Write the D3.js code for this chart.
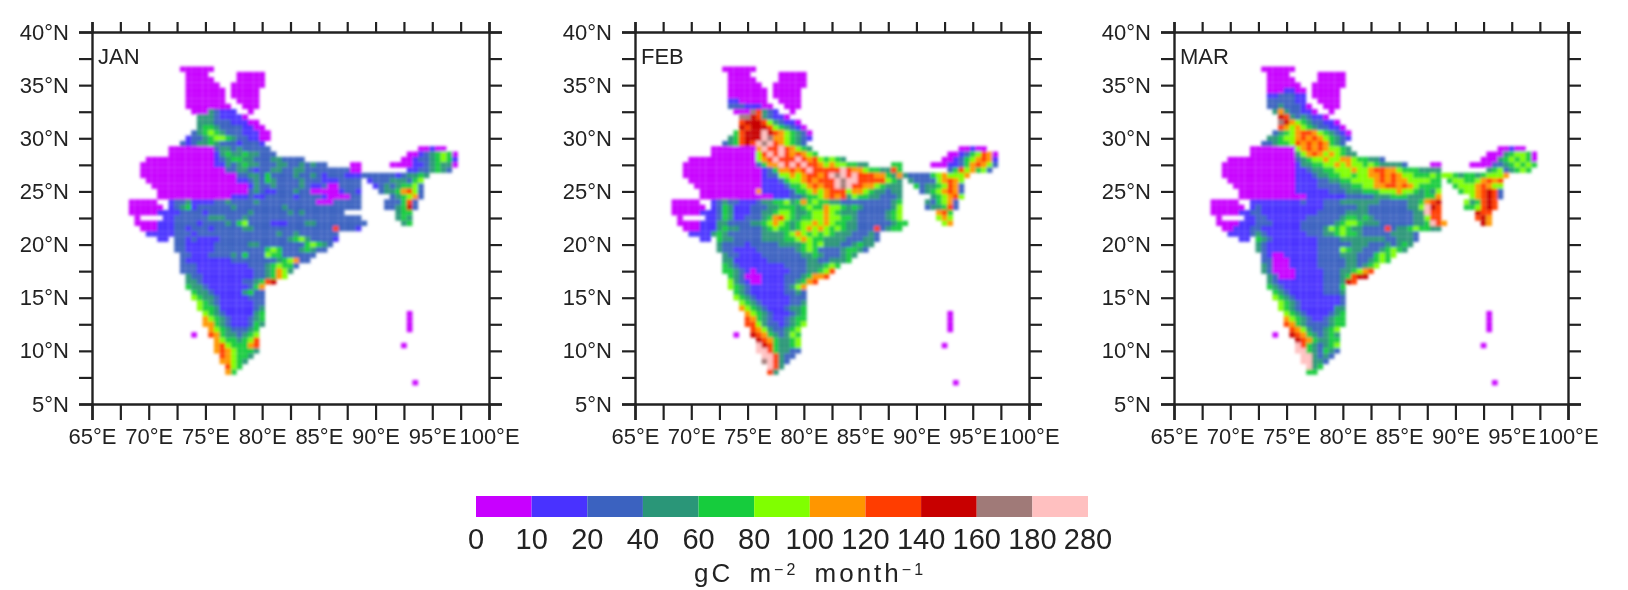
<!DOCTYPE html>
<html>
<head>
<meta charset="utf-8">
<script src="https://cdn.jsdelivr.net/npm/d3@7"></script>
<style>
  html, body { margin: 0; padding: 0; background: #fff; }
  text { font-family: "Liberation Sans", Arial, sans-serif; fill: #222; }
</style>
</head>
<body>
<div id="chart"></div>
<script>
// colour bar classes, gC m-2 month-1
var binLabels = ["0", "10", "20", "40", "60", "80", "100", "120", "140", "160", "180", "280"];
var binColors = ["#c800ff", "#4a30ff", "#3a62c0", "#2a9678", "#14cc3c", "#80ff00", "#ff9600", "#ff3c00", "#c80000", "#a07a78", "#ffc0c0"];
var binCodes = "0123456789a";

var months = ["JAN", "FEB", "MAR"];
var lonTicks = [65, 67.5, 70, 72.5, 75, 77.5, 80, 82.5, 85, 87.5, 90, 92.5, 95, 97.5, 100];
var latTicks = [5, 7.5, 10, 12.5, 15, 17.5, 20, 22.5, 25, 27.5, 30, 32.5, 35, 37.5, 40];

// grid: 0.5 deg cells, one row per latitude from 36.5N down to 7N.
// "col:codes" - col counts half degrees from 68E, each code is a colour bar class
var janRows = [
  "10:000000",
  "11:0000 20:00000",
  "11:00000 20:00000",
  "11:000000 19:000000",
  "11:0000000 19:00000",
  "11:0000000 19:00000",
  "11:0000000 20:0000",
  "11:00000000 21:000",
  "12:00032111 22:0",
  "13:333211110",
  "13:33322211100",
  "13:344322221100",
  "12:23454322211100",
  "11:122345543221100",
  "10:212334322212221",
  "8:000000002332322222 52:00100",
  "8:0000000013433433222 50:001234540",
  "4:0000000000001234433222332222 49:0012234541",
  "3:000000000000011323433222332232322 40:00 47:000011234330",
  "3:0000000000000002233212233223322222222 40:00 50:11223432",
  "3:00000000000000000223324222232232122211 41:1222222123343",
  "4:00000000000000001123243222232221112222 43:1222333245",
  "5:0000000000000000013223222232112002222 44:123234452",
  "6:000000000000000023211222322000001221 45:23346752",
  "6:000000000000011121122222122221000022 47:234562",
  "1:00000 8:1223111122322223222222222200022222 46:222472",
  "1:000000 8:1234122222232222222232222222222222 46:223482",
  "1:0000011 8:1122221222222232222223232222222 48:344",
  "2:0 7:11222222333222322222222222222222222 48:343",
  "2:00001112222122223245222211122233222222222 49:34",
  "3:000111221222122222332222222222222272221",
  "4:1111122212222222222222232232222222",
  "6:11 9:22121111222222222222345322221",
  "9:2211111222222332222222245432",
  "9:221111122222222245422234322",
  "10:221112222324222544222222",
  "10:21111111122222222345622",
  "10:222111111111222345442",
  "10:22211111111112234653",
  "11:322111111111223465",
  "11:3321111111223478",
  "11:43321111111246",
  "12:4332111113422",
  "12:5433211111222",
  "13:543211111122",
  "13:544311111123",
  "14:54321111134 50:0",
  "14:65432111234 50:0",
  "14:66432111243 50:0",
  "15:654322234 50:0",
  "12:0 15:764332345",
  "16:65443457",
  "16:67544467 49:0",
  "16:67654443",
  "17:765443",
  "17:66543",
  "18:754",
  "18:64",
  "",
  "51:0"
];

var febRows = [
  "10:000000",
  "11:0000 20:00000",
  "11:00000 20:00000",
  "11:000000 19:000000",
  "11:0000000 19:00000",
  "11:0000000 19:00000",
  "11:1100000 20:0000",
  "11:22211100 21:000",
  "12:00097321 22:0",
  "13:998732110",
  "13:78887532110",
  "13:878887543210",
  "12:47888a87654320",
  "11:347888a96654321",
  "10:234787a9a765432",
  "8:000000006a77a76543 52:00100",
  "8:0000000057a7a767654 50:001245760",
  "4:000000000000567a777a76754543 49:0012456761",
  "3:00000000000002466a7a7a77656554433 40:44 47:000112467652",
  "3:0000000000000012466767a77777a76654433 40:74 50:24756452",
  "3:00000000000000122556567767a9a7a7776643 41:6322224565556",
  "4:00000000000001112455676777a9aa77777543 43:3222256765",
  "5:0000000000001111244567677a9a776654333 44:423345762",
  "6:000000000061111124456567775665433233 45:23456762",
  "6:000000000000011122344567673544332223 47:345675",
  "1:00000 8:1232211123344534645443322222222234 46:324562",
  "1:000000 8:1243111222334443454465543432222235 46:233472",
  "1:0000011 8:1243111223345543345565433322222345 48:674",
  "2:0 7:11243112223467543445565544322222345 48:565",
  "2:00001113322223345654345565654433222222344 49:56",
  "3:000111343322223454434565654543322272344",
  "4:1111343222222333345654545433322232",
  "6:11 9:43322222333344565443333222332",
  "9:3222212222233334545333223433",
  "9:322111122222223454222234432",
  "10:322111122222223343222343",
  "10:33111111222222233223334",
  "10:432111111112222333454",
  "10:44321011111122233457",
  "11:432000111122234667",
  "11:5321001111223467",
  "11:54321111112356",
  "12:4321111112232",
  "12:5432111111222",
  "13:543211111223",
  "13:654321112334",
  "14:65432111234 50:0",
  "14:76432112344 50:0",
  "14:77532212345 50:0",
  "15:765322345 50:0",
  "12:0 15:876432354",
  "16:87643345",
  "16:a8743345 49:0",
  "16:aa743322",
  "17:aa7322",
  "17:9a732",
  "18:a73",
  "18:73",
  "",
  "51:0"
];

var marRows = [
  "10:000000",
  "11:0000 20:00000",
  "11:00000 20:00000",
  "11:000000 19:000000",
  "11:0001100 19:00000",
  "11:1122211 19:00000",
  "11:2222211 20:0000",
  "11:22322210 21:000",
  "12:36322110 22:0",
  "13:873232110",
  "13:98654322110",
  "13:765654322110",
  "12:23456776543210",
  "11:334556767654321",
  "10:223445767676432",
  "8:000000005676765543 52:00100",
  "8:0000000035676565433 50:000345540",
  "4:0000000000002345565566544332 49:0003454540",
  "3:000000000000013344556565545433332 40:00 47:000022345454",
  "3:0000000000000112334455565567766544433 40:33 50:34523454",
  "3:00000000000001112334455455667676554445 41:4554344345556",
  "4:00000000000011112233445555676766555544 43:4554456767",
  "5:0000000000011112222334455667767654444 44:455567655",
  "6:000000000011111122233344455565543435 45:45567872",
  "6:000000000000111111122222333444333446 47:567872",
  "1:00000 8:1111111112111222333333322222334678 46:534787",
  "1:000000 8:1211111111111222222332222222335a87 46:445787",
  "1:0000011 8:2211111111112222233332222222233a77 48:877",
  "2:0 7:11221111111222222344343222222233577 48:786",
  "2:00001112221111122222234554333222222334a76 49:86",
  "3:001112211111112222354543322227233454433",
  "4:1111232111111122233454432222233332",
  "6:11 9:43211111111222233333333223332",
  "9:3211111111122222233322232343",
  "9:321111111112222543322234543",
  "10:210011111122223332224545",
  "10:22000111112222233223454",
  "10:320001111122222332345",
  "10:32000011111222334567",
  "11:320001111122234788",
  "11:3211111111222387",
  "11:43211111112224",
  "12:4321111112223",
  "12:5432111111112",
  "13:543211111112",
  "13:543211111133",
  "14:54321111234 50:0",
  "14:65432112344 50:0",
  "14:76432222344 50:0",
  "15:765322345 50:0",
  "12:0 15:876432343",
  "16:87643344",
  "16:a7432345 49:0",
  "16:aa432432",
  "17:aa3232",
  "17:aa332",
  "18:a34",
  "18:44",
  "",
  "51:0"
];

var allRows = [janRows, febRows, marRows];

var width = 1628, height = 590;
var plotLefts = [92, 635, 1174];
var plotWidths = [397, 394, 394];
var plotTop = 32, plotHeight = 372;

var svg = d3.select("#chart").append("svg")
    .attr("width", width)
    .attr("height", height)
    .style("display", "block");

var defs = svg.append("defs");
defs.append("filter").attr("id", "soft").append("feGaussianBlur").attr("stdDeviation", 0.6);
defs.append("filter").attr("id", "softMap").append("feGaussianBlur").attr("stdDeviation", 1.4);

var color = d3.scaleOrdinal().domain(binCodes.split("")).range(binColors);

// turn the "col:codes" strings into cells
function parseRows(rows) {
    var cells = [];
    rows.forEach(function (row, r) {
        var lat = 36.5 - r * 0.5;
        row.split(" ").forEach(function (seg) {
            if (!seg) return;
            var parts = seg.split(":");
            var start = +parts[0];
            parts[1].split("").forEach(function (code, k) {
                cells.push({lon: 68 + (start + k) * 0.5, lat: lat, code: code});
            });
        });
    });
    return cells;
}

function drawPanel(i) {
    var plotWidth = plotWidths[i];
    var g = svg.append("g")
        .attr("transform", "translate(" + plotLefts[i] + "," + plotTop + ")");

    var x = d3.scaleLinear().domain([65, 100]).range([0, plotWidth]);
    var y = d3.scaleLinear().domain([5, 40]).range([plotHeight, 0]);

    g.append("g").attr("filter", "url(#softMap)")
        .selectAll("rect")
        .data(parseRows(allRows[i]))
        .enter().append("rect")
        .attr("x", function (d) { return x(d.lon - 0.25); })
        .attr("y", function (d) { return y(d.lat + 0.25); })
        .attr("width", x(0.5) - x(0))
        .attr("height", y(0) - y(0.5))
        .attr("fill", function (d) { return color(d.code); });

    var frame = g.append("g").attr("filter", "url(#soft)");

    frame.append("g")
        .attr("transform", "translate(0," + plotHeight + ")")
        .call(d3.axisBottom(x).tickValues(lonTicks).tickSize(16).tickPadding(8)
            .tickFormat(function (d) { return d % 5 === 0 ? d + "°E" : ""; }));
    frame.append("g")
        .call(d3.axisTop(x).tickValues(lonTicks).tickSize(10).tickFormat(""));
    frame.append("g")
        .call(d3.axisLeft(y).tickValues(latTicks).tickSize(13).tickPadding(10)
            .tickFormat(function (d) { return d % 5 === 0 ? d + "°N" : ""; }));
    frame.append("g")
        .attr("transform", "translate(" + plotWidth + ",0)")
        .call(d3.axisRight(y).tickValues(latTicks).tickSize(13).tickFormat(""));

    frame.selectAll(".domain").attr("stroke", "#222").attr("stroke-width", 2.4);
    frame.selectAll(".tick line").attr("stroke", "#222").attr("stroke-width", 2.2);
    frame.selectAll(".tick text").style("font-size", "22px").style("fill", "#222");

    frame.append("text")
        .attr("x", 6)
        .attr("y", 32)
        .style("font-size", "22px")
        .text(months[i]);
}

months.forEach(function (m, i) { drawPanel(i); });

// colour bar
var barX = d3.scalePoint().domain(d3.range(binLabels.length)).range([476, 1088]);
var bar = svg.append("g").attr("filter", "url(#soft)");

bar.selectAll("rect")
    .data(binColors)
    .enter().append("rect")
    .attr("x", function (d, i) { return barX(i); })
    .attr("y", 496)
    .attr("width", barX.step())
    .attr("height", 21)
    .attr("fill", function (d) { return d; });

bar.selectAll("text.binlabel")
    .data(binLabels)
    .enter().append("text")
    .attr("class", "binlabel")
    .attr("x", function (d, i) { return barX(i); })
    .attr("y", 549)
    .attr("text-anchor", "middle")
    .style("font-size", "29px")
    .text(function (d) { return d; });

var unit = bar.append("text")
    .attr("x", 810)
    .attr("y", 582)
    .attr("text-anchor", "middle")
    .style("font-size", "26px")
    .style("letter-spacing", "3px")
    .style("word-spacing", "6px");
unit.append("tspan").text("gC m");
unit.append("tspan").attr("dy", -7).style("font-size", "16px").text("−2");
unit.append("tspan").attr("dy", 7).text(" month");
unit.append("tspan").attr("dy", -7).style("font-size", "16px").text("−1");
</script>
</body>
</html>
